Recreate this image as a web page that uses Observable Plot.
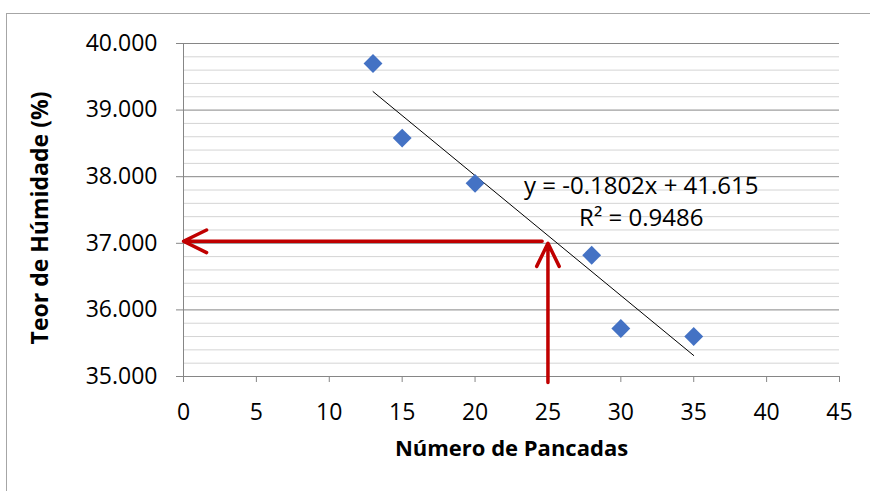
<!DOCTYPE html>
<html><head><meta charset="utf-8">
<script src="https://cdn.jsdelivr.net/npm/d3@7"></script>
<script src="https://cdn.jsdelivr.net/npm/@observablehq/plot@0.6"></script>
<style>
html,body{margin:0;padding:0;overflow:hidden;background:#fff;}
#wrap{position:relative;width:870px;height:491px;}
#border{position:absolute;left:6px;top:13px;width:880px;height:500px;border-left:1px solid #a6a6a6;border-top:1px solid #a6a6a6;box-sizing:border-box;z-index:2;pointer-events:none;}
</style></head><body><div id="wrap"><div id="border"></div></div>
<script>
// Data
const pancadas = [13, 15, 20, 28, 30, 35];
const humidade = [39.70, 38.58, 37.90, 36.82, 35.72, 35.60];
const xTicks = [0, 5, 10, 15, 20, 25, 30, 35, 40, 45];
const yTicks = [35, 36, 37, 38, 39, 40];
const yMinor = [35.2, 35.4, 35.6, 35.8, 36.2, 36.4, 36.6, 36.8, 37.2, 37.4, 37.6, 37.8,
                38.2, 38.4, 38.6, 38.8, 39.2, 39.4, 39.6, 39.8];
const equationLines = ["y = -0.1802x + 41.615", "R² = 0.9486"];
const equationX = [31.4, 31.4];
const equationY = [37.86, 37.38];
const arrowX1 = [24.6, 25];
const arrowY1 = [37.03, 34.91];
const arrowX2 = [0, 25];
const arrowY2 = [37.03, 37.0];
const xLabel = "Número de Pancadas";
const yLabel = "Teor de Húmidade (%)";

const points = pancadas.map((x, i) => ({x, y: humidade[i]}));
const arrows = arrowX1.map((x1, i) => ({x1, y1: arrowY1[i], x2: arrowX2[i], y2: arrowY2[i]}));
const eq = equationLines.map((t, i) => ({t, x: equationX[i], y: equationY[i]}));

const gridMajor = "#868686";
const gridMinor = "#d4d4d4";

const chart = Plot.plot({
  width: 870,
  height: 491,
  marginLeft: 183,
  marginRight: 31,
  marginTop: 43,
  marginBottom: 115,
  style: {fontFamily: "'Open Sans', sans-serif", fontSize: "23px", color: "black", background: "transparent", overflow: "visible"},
  x: {domain: [0, 45]},
  y: {domain: [35, 40]},
  marks: [
    Plot.gridY(yMinor, {stroke: gridMinor, strokeOpacity: 1, strokeWidth: 1}),
    Plot.gridY(yTicks, {stroke: gridMajor, strokeOpacity: 1, strokeWidth: 1}),
    Plot.ruleX([0], {stroke: gridMajor, strokeWidth: 1}),
    Plot.axisX({ticks: xTicks, tickSize: 6, tickPadding: 21, stroke: gridMajor, label: null, fontSize: 23, tickFormat: d3.format("d")}),
    Plot.axisY({ticks: yTicks, tickSize: 7, tickPadding: 19, stroke: gridMajor, label: null, fontSize: 23, tickFormat: d3.format(".3f")}),
    Plot.linearRegressionY(points, {x: "x", y: "y", ci: 0, stroke: "black", strokeWidth: 1}),
    Plot.arrow(arrows, {x1: "x1", y1: "y1", x2: "x2", y2: "y2", stroke: "#c00000", strokeWidth: 3.5, headLength: 11, headAngle: 52}),
    Plot.dot(points, {x: "x", y: "y", symbol: "diamond2", r: 8.5, fill: "#4472c4", stroke: "none"}),
    Plot.text(eq, {x: "x", y: "y", text: "t", fontSize: 24, fill: "black", textAnchor: "middle"}),
    Plot.text([xLabel], {frameAnchor: "bottom", dy: 79, fontSize: 22, fontWeight: "bold", fill: "black", textAnchor: "middle"}),
    Plot.text([yLabel], {frameAnchor: "left", dx: -143, dy: 8, rotate: -90, fontSize: 23, fontWeight: "bold", fill: "black", textAnchor: "middle"})
  ]
});
document.getElementById("wrap").appendChild(chart);
</script>
</body></html>
